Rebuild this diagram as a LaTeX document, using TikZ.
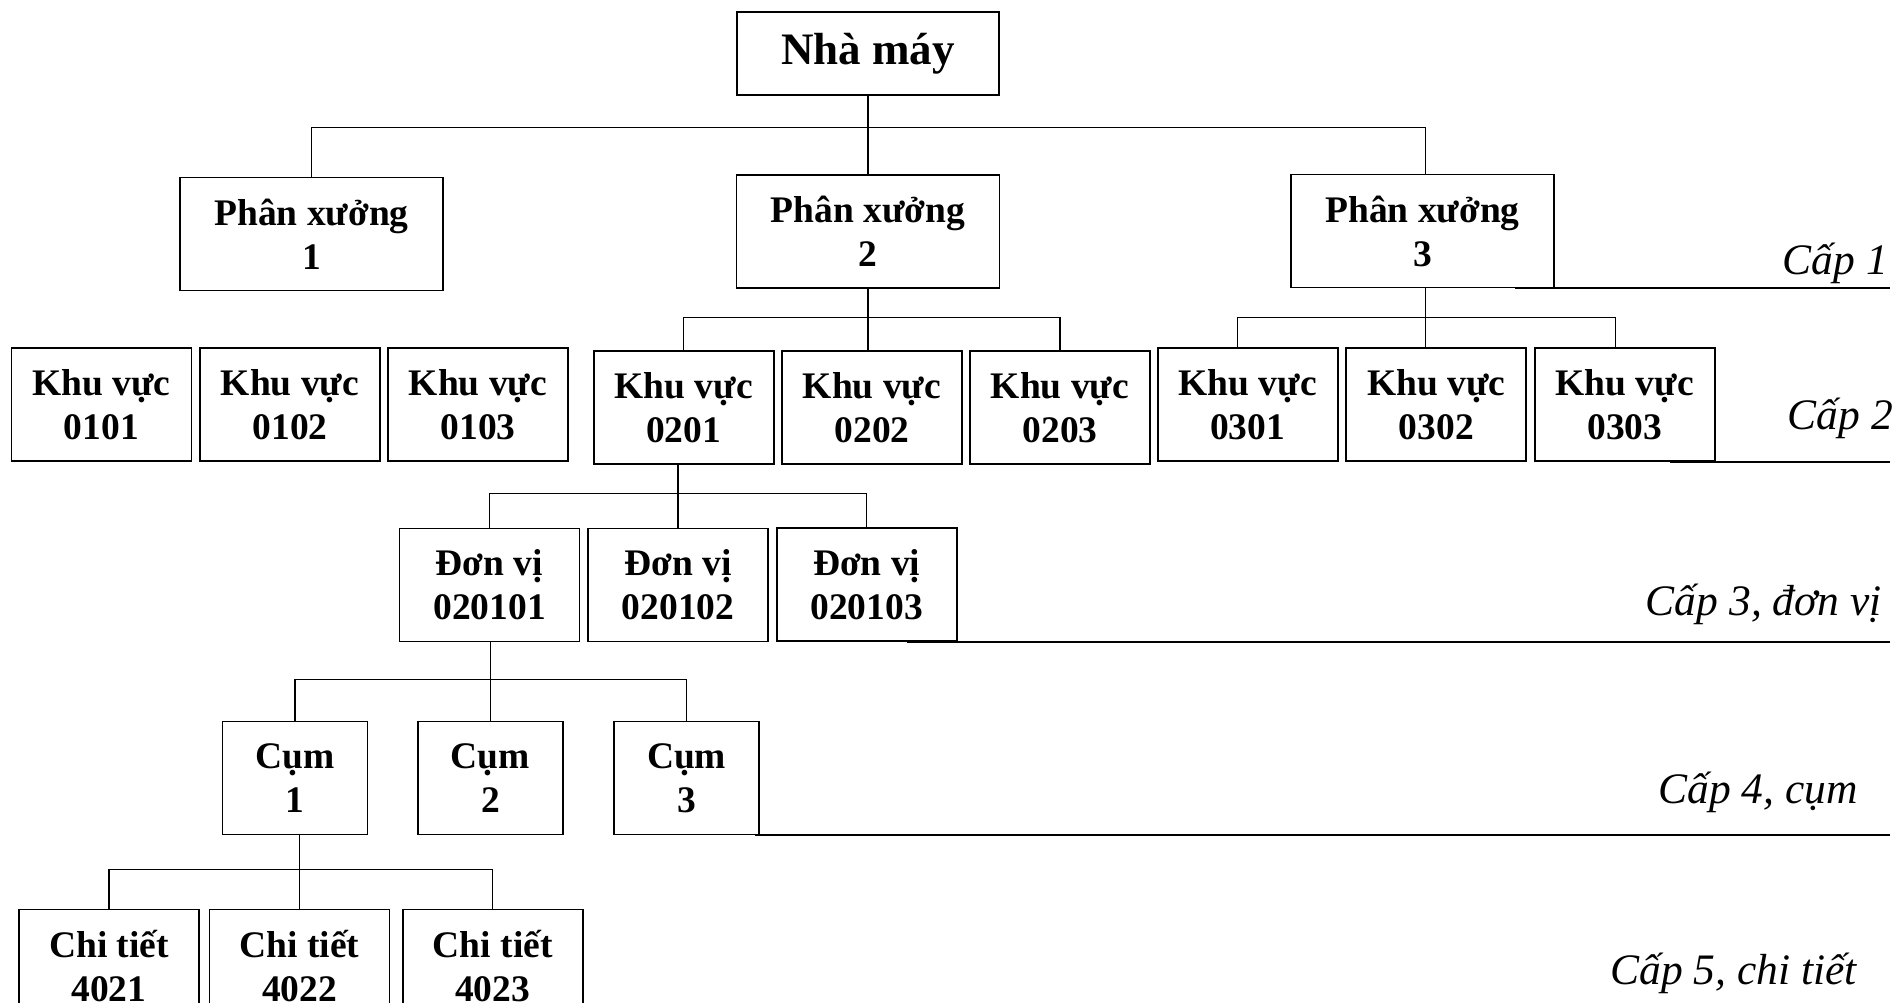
\documentclass[tikz,border=0pt]{standalone}
\usepackage{fontspec}
\setmainfont{Liberation Serif}
\begin{document}
\begin{tikzpicture}[x=1pt,y=-1pt,
  box/.style={draw, line width=1.8pt, align=center, inner sep=0pt,
    font=\bfseries\fontsize{37.5}{44}\selectfont},
  pxbox/.style={box, minimum width=263, minimum height=113},
  kvbox/.style={box, minimum width=180, minimum height=113},
  cumbox/.style={box, minimum width=145, minimum height=113},
  conn/.style={line width=1.3pt},
  lvl/.style={line width=2pt},
  lbl/.style={anchor=base east, inner sep=0pt, font=\itshape\fontsize{43.5}{50}\selectfont}]
\useasboundingbox (0,0) rectangle (1904,1003);
\clip (0,0) rectangle (1904,1003);

% bus and end coordinates
\coordinate (b0) at (0,127.3);
\coordinate (b1) at (0,317.3);
\coordinate (b2) at (0,493.3);
\coordinate (b3) at (0,679.7);
\coordinate (b4) at (0,869.7);
\coordinate (e1) at (1890,0);

% nodes
\node[box, minimum width=262, minimum height=83, font=\bfseries\fontsize{45}{50}\selectfont] (nm) at (868,53.5) {Nhà máy};

\node[pxbox] (px1) at (311.5,234) {Phân xưởng\\1};
\node[pxbox] (px2) at (868,231.5) {Phân xưởng\\2};
\node[pxbox] (px3) at (1422.5,231) {Phân xưởng\\3};

\node[kvbox] (kv0101) at (101.4,404.5) {Khu vực\\0101};
\node[kvbox] (kv0102) at (290,404.5) {Khu vực\\0102};
\node[kvbox] (kv0103) at (478,404.5) {Khu vực\\0103};
\node[kvbox] (kv0201) at (683.7,407.3) {Khu vực\\0201};
\node[kvbox] (kv0202) at (872,407.3) {Khu vực\\0202};
\node[kvbox] (kv0203) at (1060,407.3) {Khu vực\\0203};
\node[kvbox] (kv0301) at (1247.7,404.7) {Khu vực\\0301};
\node[kvbox] (kv0302) at (1436.3,404.7) {Khu vực\\0302};
\node[kvbox] (kv0303) at (1624.8,404.7) {Khu vực\\0303};

\node[kvbox] (dv1) at (489.5,585) {Đơn vị\\020101};
\node[kvbox] (dv2) at (678,585) {Đơn vị\\020102};
\node[kvbox] (dv3) at (866.7,584.7) {Đơn vị\\020103};

\node[cumbox] (cum1) at (295,778) {Cụm\\1};
\node[cumbox] (cum2) at (490.5,778) {Cụm\\2};
\node[cumbox] (cum3) at (686.6,778) {Cụm\\3};

\node[kvbox] (ct1) at (109,966) {Chi tiết\\4021};
\node[kvbox] (ct2) at (299.5,966) {Chi tiết\\4022};
\node[kvbox] (ct3) at (492.7,966) {Chi tiết\\4023};

% connectors level 1
\draw[conn] (nm.south) -- (px2.north);
\draw[conn] (px1.north) -- (px1.north |- b0) -- ([xshift=3pt]px3.north |- b0) -- ([xshift=3pt]px3.north);

% level 2
\draw[conn] (px2.south) -- (px2.south |- kv0202.north);
\draw[conn] (kv0201.north) -- (kv0201.north |- b1) -- (kv0203.north |- b1) -- (kv0203.north);
\draw[conn] ([xshift=3pt]px3.south) -- ([xshift=3pt]px3.south |- kv0302.north);
\draw[conn] ([xshift=-10pt]kv0301.north) -- ([xshift=-10pt]kv0301.north |- b1) -- ([xshift=-9pt]kv0303.north |- b1) -- ([xshift=-9pt]kv0303.north);

% level 3
\draw[conn] (kv0201.south -| dv2.north) -- (dv2.north);
\draw[conn] (dv1.north) -- (dv1.north |- b2) -- (dv3.north |- b2) -- (dv3.north);

% level 4
\draw[conn] (dv1.south -| cum2.north) -- (cum2.north);
\draw[conn] (cum1.north) -- (cum1.north |- b3) -- (cum3.north |- b3) -- (cum3.north);

% level 5
\draw[conn] (cum1.south -| ct2.north) -- (ct2.north);
\draw[conn] (ct1.north) -- (ct1.north |- b4) -- (ct3.north |- b4) -- (ct3.north);

% level lines
\draw[lvl] ([xshift=-40pt]px3.south east) -- (px3.south east -| e1);
\draw[lvl] ([xshift=-46pt]kv0303.south east) -- (kv0303.south east -| e1);
\draw[lvl] ([xshift=-51pt]dv3.south east) -- (dv3.south east -| e1);
\draw[lvl] ([xshift=-5pt]cum3.south east) -- (cum3.south east -| e1);

% level labels
\node[lbl] (l1) at (1888,274) {Cấp 1};
\node[lbl] (l2) at (1893,429) {Cấp 2};
\node[lbl] (l3) at (1882,615) {Cấp 3, đơn vị};
\node[lbl] (l4) at (1858,803) {Cấp 4, cụm};
\node[lbl] (l5) at (1857,984) {Cấp 5, chi tiết};
\end{tikzpicture}
\end{document}
